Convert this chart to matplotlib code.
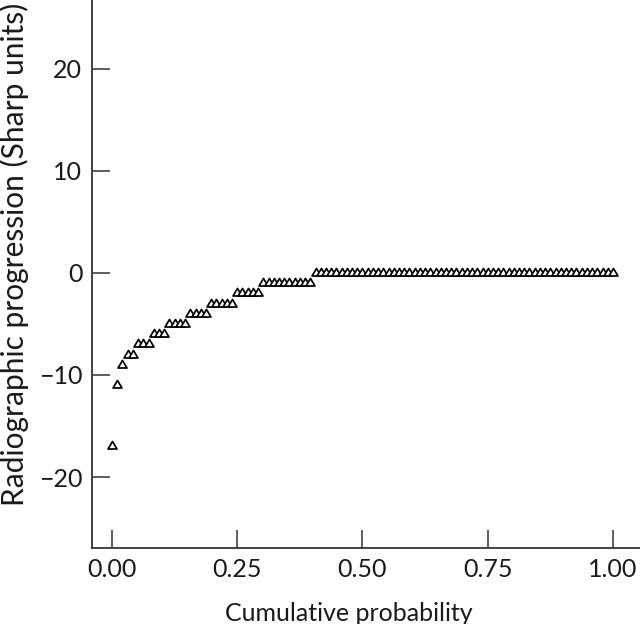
import matplotlib
matplotlib.use("Agg")
import matplotlib.pyplot as plt
from matplotlib.path import Path
import numpy as np

# Radiographic progression values (Sharp units), sorted, one per patient
progression = (
    [-17, -11, -9]
    + [-8] * 2
    + [-7] * 3
    + [-6] * 3
    + [-5] * 4
    + [-4] * 4
    + [-3] * 5
    + [-2] * 5
    + [-1] * 10
    + [0] * 58
)
x_ticks = [0.00, 0.25, 0.50, 0.75, 1.00]
x_ticklabels = ["0.00", "0.25", "0.50", "0.75", "1.00"]
y_ticks = [-20, -10, 0, 10, 20]
y_ticklabels = ["\u221220", "\u221210", "0", "10", "20"]

values = np.sort(np.array(progression, dtype=float))
n = len(values)
cum_prob = np.arange(n) / (n - 1)

plt.rcParams['font.family'] = ['Lato', 'DejaVu Sans']

# open triangle marker with its centroid at the data point
tri = Path([(0, 1.12), (-1, -0.56), (1, -0.56), (0, 1.12)],
           [Path.MOVETO, Path.LINETO, Path.LINETO, Path.CLOSEPOLY])

fig = plt.figure(figsize=(6.4, 6.24), dpi=100)
ax = fig.add_axes([92 / 640, 76 / 624, 548 / 640, 548 / 624])

ax.plot(cum_prob, values, linestyle='none', marker=tri, markersize=7.2,
        markerfacecolor='white', markeredgecolor='black', markeredgewidth=1.25)

ax.set_xlim(-0.04, 1.054)
ax.set_ylim(-26.96, 26.76)
ax.set_xticks(x_ticks)
ax.set_xticklabels(x_ticklabels)
ax.set_yticks(y_ticks)
ax.set_yticklabels(y_ticklabels)

for s in ['top', 'right']:
    ax.spines[s].set_visible(False)
for s in ['left', 'bottom']:
    ax.spines[s].set_linewidth(1.3)
    ax.spines[s].set_color('#333333')

ax.tick_params(direction='in', length=13, width=1.1, color='#333333',
               labelsize=18, pad=7, labelcolor='#1a1a1a')

ax.set_xlabel("Cumulative probability", fontsize=18, color='#1a1a1a')
ax.set_ylabel("Radiographic progression (Sharp units)", fontsize=21.5, color='#1a1a1a')
ax.xaxis.set_label_coords(0.469, -0.098)
ax.yaxis.set_label_coords(-0.115, 0.536)

fig.savefig("out.png", dpi=100)
